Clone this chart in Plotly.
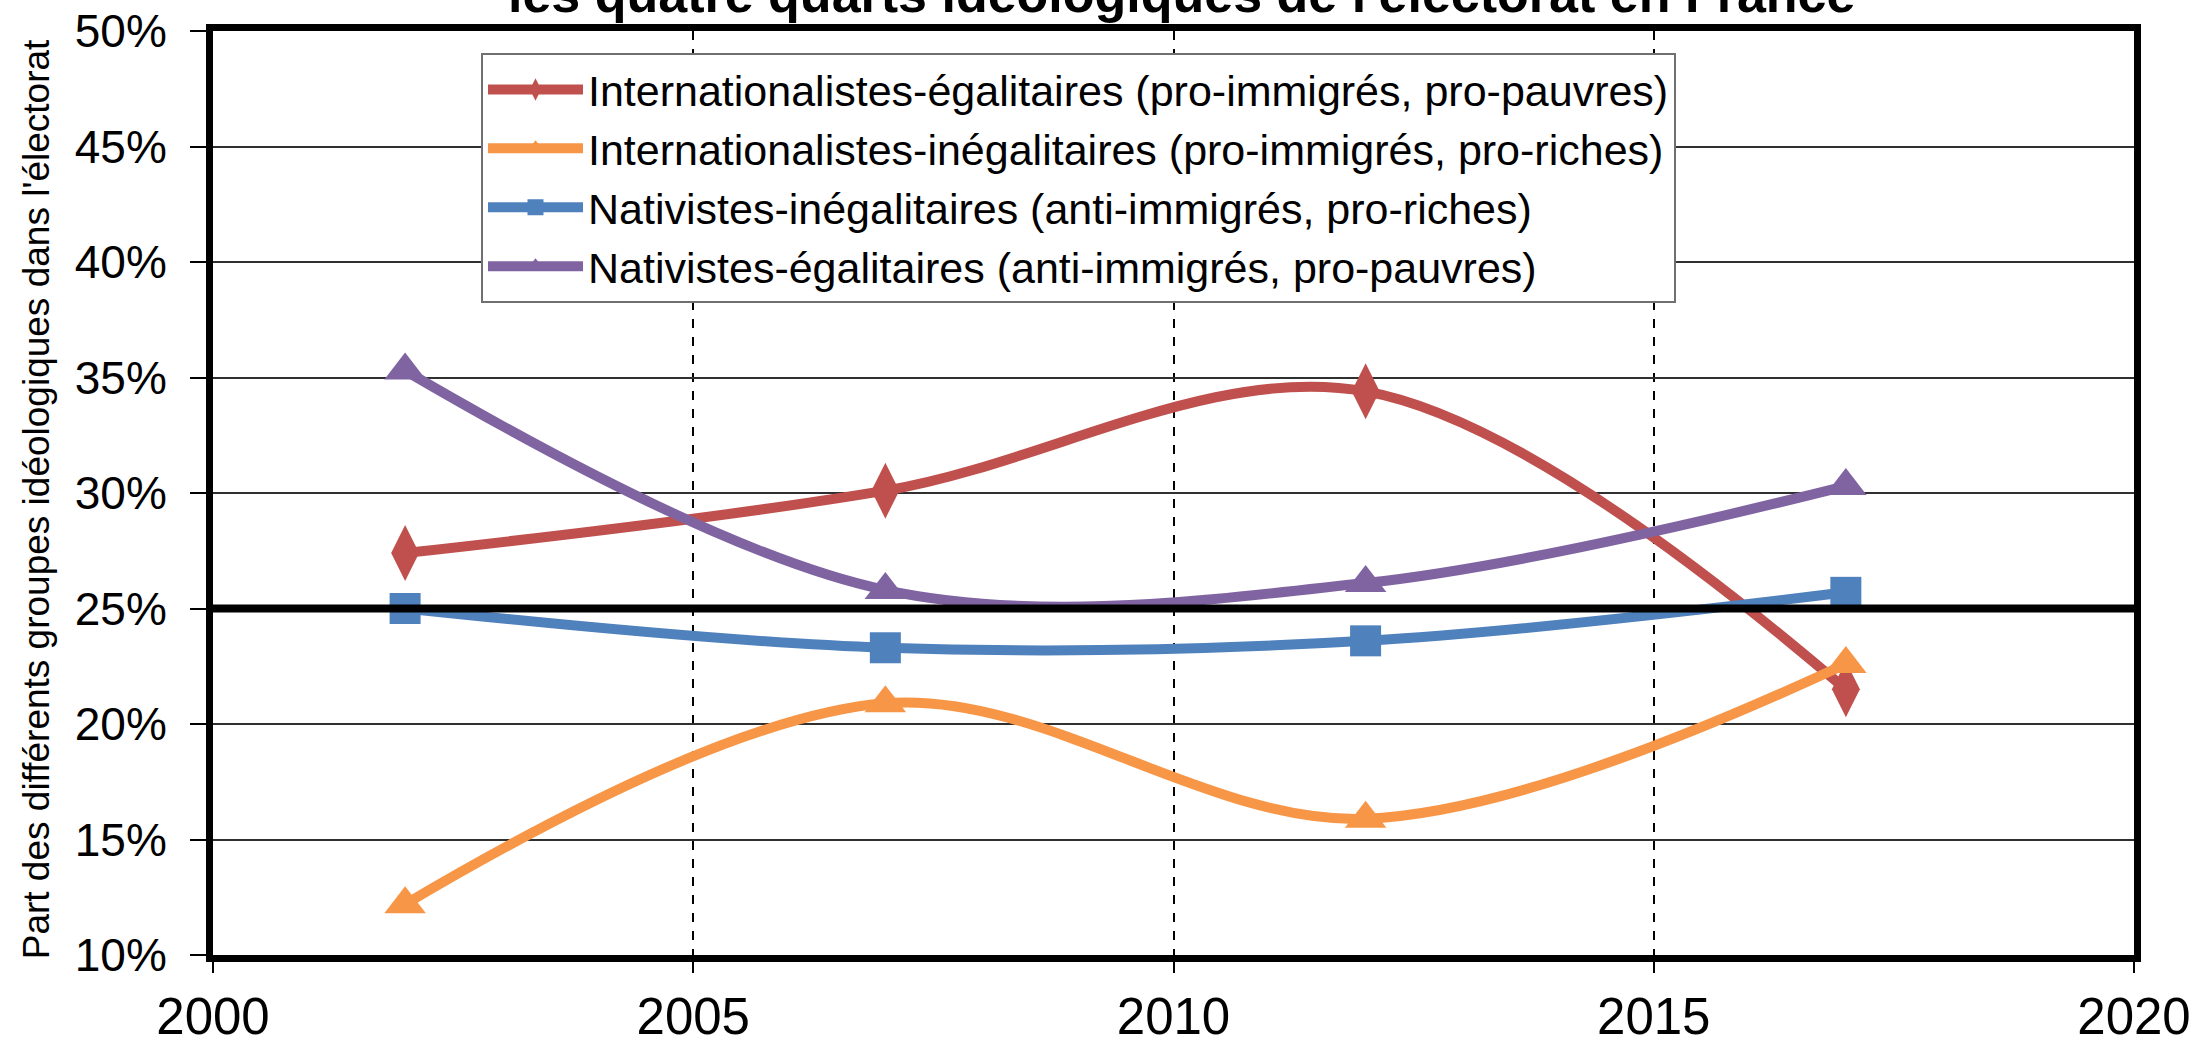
import plotly.graph_objects as go

years = [2002, 2007, 2012, 2017]
series_names = [
    "Internationalistes-égalitaires (pro-immigrés, pro-pauvres)",
    "Internationalistes-inégalitaires (pro-immigrés, pro-riches)",
    "Nativistes-inégalitaires (anti-immigrés, pro-riches)",
    "Nativistes-égalitaires (anti-immigrés, pro-pauvres)",
]
intl_egal = [27.4, 30.1, 34.4, 21.5]
intl_inegal = [12.2, 20.9, 15.9, 22.6]
nat_inegal = [25.0, 23.3, 23.6, 25.7]
nat_egal = [35.3, 25.8, 26.1, 30.3]
reference_share = 25
y_ticks = [10, 15, 20, 25, 30, 35, 40, 45, 50]
y_tick_labels = [f"{v}%" for v in y_ticks]
x_ticks = [2000, 2005, 2010, 2015, 2020]
title_text = "les quatre quarts idéologiques de l'électorat en France"
y_title = "Part des différents groupes idéologiques dans l'électorat"

colors = ["#C0504D", "#F79646", "#4F81BD", "#8064A2"]
symbols = ["diamond-tall", "triangle-up", "square", "triangle-up"]
sizes = [40, 36, 31, 36]
values = [intl_egal, intl_inegal, nat_inegal, nat_egal]

fig = go.Figure()
for name, vals, c, s, sz in zip(series_names, values, colors, symbols, sizes):
    fig.add_trace(go.Scatter(
        x=years, y=vals, name=name, mode="lines+markers",
        line=dict(color=c, width=10, shape="spline", smoothing=1.0),
        marker=dict(color=c, symbol=s, size=sz, line=dict(width=0)),
    ))

fig.add_shape(type="line", xref="paper", x0=0, x1=1, yref="y",
              y0=reference_share, y1=reference_share,
              line=dict(color="black", width=8), layer="above")

fig.add_annotation(text=title_text, xref="paper", yref="paper", x=0.504, y=1.006,
                   xanchor="center", yanchor="bottom", showarrow=False,
                   font=dict(family="Liberation Sans, Arial", size=52, color="black", weight="bold"))
fig.add_annotation(text=y_title, xref="paper", yref="paper", x=-0.092, y=0.4935,
                   xanchor="center", yanchor="middle", textangle=-90, showarrow=False,
                   font=dict(family="Liberation Sans, Arial", size=37, color="black"))

fig.update_layout(
    width=2198, height=1040,
    margin=dict(l=213, r=64, t=31, b=85, autoexpand=False),
    paper_bgcolor="white", plot_bgcolor="white",
    showlegend=True,
    legend=dict(x=(481 - 213) / 1921, y=1 - (53 - 31) / 924, xanchor="left", yanchor="top",
                bgcolor="white", bordercolor="#707070", borderwidth=2,
                font=dict(family="Liberation Sans, Arial", size=43, color="black"),
                itemwidth=95, tracegroupgap=0, entrywidth=1115, entrywidthmode="pixels"),
    xaxis=dict(range=[2000, 2020], tickvals=x_ticks, ticks="outside", ticklen=11, tickwidth=1.5,
               tickcolor="black", showgrid=True, gridcolor="black", gridwidth=1.5, griddash="dash",
               showline=True, linecolor="black", linewidth=7, mirror=True, zeroline=False,
               ticklabeloverflow="allow", automargin=False,
               tickfont=dict(family="Liberation Sans, Arial", size=51, color="black")),
    yaxis=dict(range=[10, 50], tickvals=y_ticks, ticktext=y_tick_labels, ticks="outside", ticklen=16,
               tickwidth=1.5, tickcolor="black", showgrid=True, gridcolor="#303030", gridwidth=1.5,
               showline=True, linecolor="black", linewidth=7, mirror=True, zeroline=False,
               ticklabelstandoff=14, automargin=False,
               tickfont=dict(family="Liberation Sans, Arial", size=46, color="black")),
)

fig.write_html("out.html", config={"displayModeBar": False},
               post_script="document.body.style.margin='0';document.body.style.overflow='hidden';")
